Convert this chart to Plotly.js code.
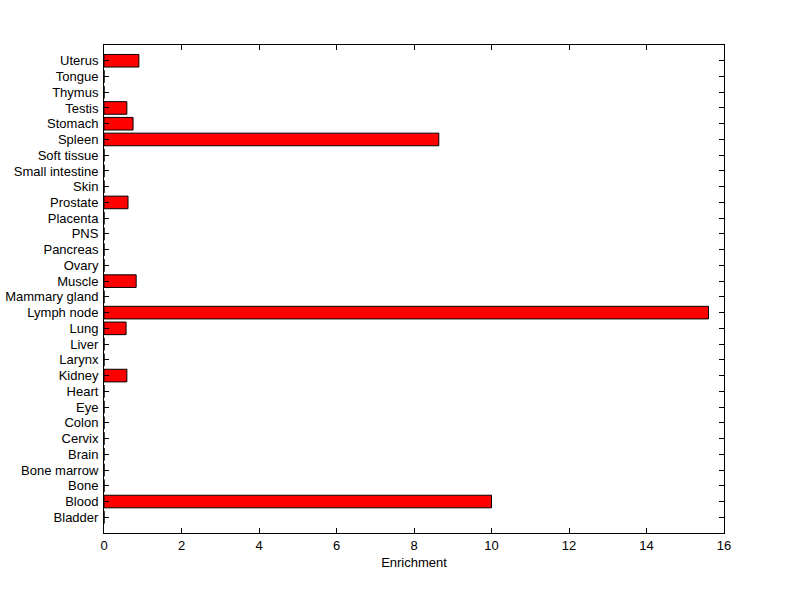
<!DOCTYPE html>
<html>
<head>
<meta charset="utf-8">
<script src="https://cdn.plot.ly/plotly-3.0.1.min.js"></script>
<style>html,body{margin:0;padding:0;background:#fff;}#chart{width:800px;height:599px;}</style>
</head>
<body>
<div id="chart"></div>
<script>
const tissues = ["Bladder","Blood","Bone","Bone marrow","Brain","Cervix","Colon","Eye","Heart","Kidney","Larynx","Liver","Lung","Lymph node","Mammary gland","Muscle","Ovary","Pancreas","PNS","Placenta","Prostate","Skin","Small intestine","Soft tissue","Spleen","Stomach","Testis","Thymus","Tongue","Uterus"];
const enrichment = [0,10.0,0,0,0,0,0,0,0,0.59,0,0,0.57,15.6,0,0.83,0,0,0,0,0.62,0,0,0,8.64,0.75,0.59,0,0,0.90];
const xTicks = [0,2,4,6,8,10,12,14,16];

const trace = {
  type: 'bar',
  orientation: 'h',
  x: enrichment,
  y: tissues.map((_, i) => i),
  marker: {color: '#ff0000', line: {color: '#000000', width: 1}},
  hoverinfo: 'none'
};

const layout = {
  width: 800, height: 599,
  margin: {l: 104, r: 76, t: 45, b: 66},
  paper_bgcolor: '#ffffff', plot_bgcolor: '#ffffff',
  font: {family: 'Arial, "Liberation Sans", sans-serif', size: 13, color: '#000'},
  bargap: 0.2,
  showlegend: false,
  xaxis: {
    range: [0, 16],
    tickvals: xTicks,
    ticktext: xTicks.map(String),
    ticks: 'inside', ticklen: 5, tickwidth: 1, tickcolor: '#000',
    showline: true, linecolor: '#000', linewidth: 1, mirror: 'ticks',
    showgrid: false, zeroline: false,
    title: {text: 'Enrichment', font: {size: 13}, standoff: 6},
    tickfont: {size: 13}
  },
  yaxis: {
    range: [-1, 30],
    tickvals: tissues.map((_, i) => i),
    ticktext: tissues,
    ticks: 'inside', ticklen: 5, tickwidth: 1, tickcolor: '#000',
    ticklabelstandoff: 2,
    showline: true, linecolor: '#000', linewidth: 1, mirror: 'ticks',
    showgrid: false, zeroline: false,
    tickfont: {size: 13}
  }
};

Plotly.newPlot('chart', [trace], layout, {staticPlot: true, displayModeBar: false});
</script>
</body>
</html>
